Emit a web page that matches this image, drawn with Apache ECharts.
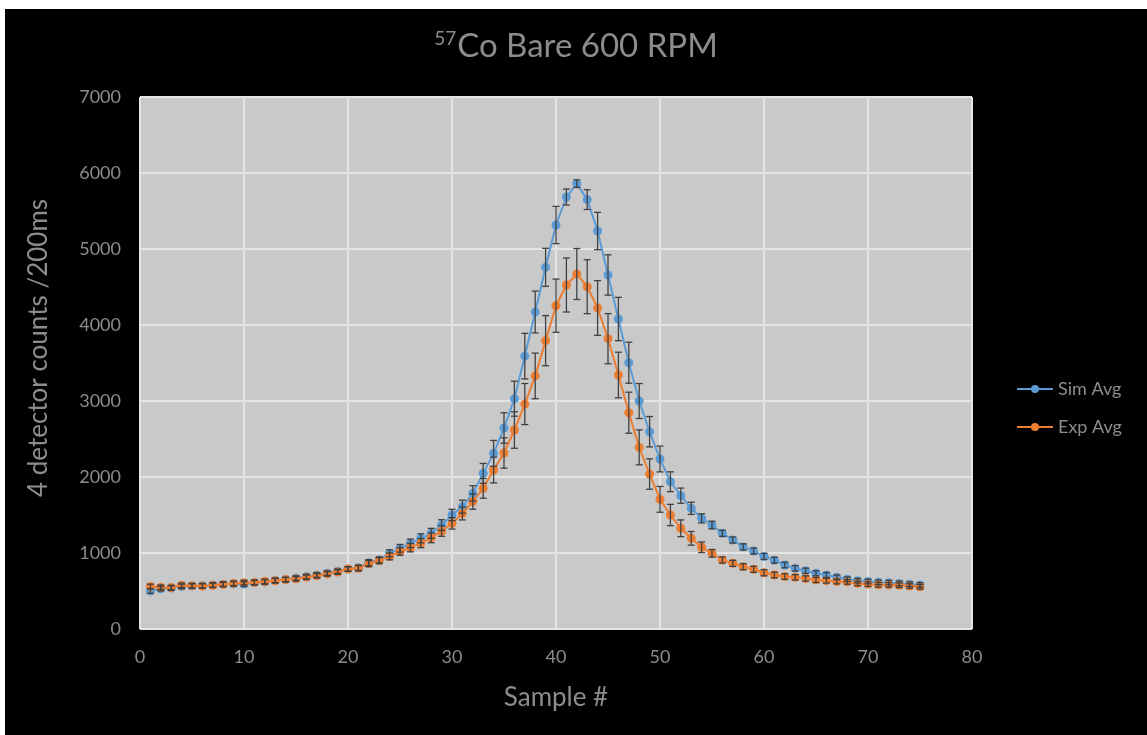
<!DOCTYPE html>
<html>
<head>
<meta charset="utf-8">
<script src="https://cdn.jsdelivr.net/npm/echarts@6/dist/echarts.min.js"></script>
<style>
  html, body { margin: 0; padding: 0; background: #ffffff; }
  #chart { position: absolute; left: 5px; top: 9px; width: 1142px; height: 726px; background: #000000; }
</style>
</head>
<body>
<div id="chart"></div>
<script>
// Sample numbers 1..75
const samples = [
  1, 2, 3, 4, 5, 6, 7, 8, 9, 10, 11, 12, 13, 14, 15, 16, 17, 18, 19, 20,
  21, 22, 23, 24, 25, 26, 27, 28, 29, 30, 31, 32, 33, 34, 35, 36, 37, 38, 39, 40,
  41, 42, 43, 44, 45, 46, 47, 48, 49, 50, 51, 52, 53, 54, 55, 56, 57, 58, 59, 60,
  61, 62, 63, 64, 65, 66, 67, 68, 69, 70, 71, 72, 73, 74, 75
];

// Simulated average counts (4 detectors, per 200 ms)
const simAvg = [
  500, 530, 540, 560, 565, 570, 580, 590, 595, 590,
  610, 620, 640, 650, 670, 690, 710, 735, 760, 790,
  805, 872, 908, 996, 1062, 1127, 1193, 1259, 1368, 1500,
  1610, 1785, 2048, 2311, 2645, 3030, 3590, 4171, 4759, 5316,
  5684, 5860, 5650, 5237, 4658, 4079, 3504, 3000, 2596, 2237,
  1938, 1754, 1588, 1456, 1368, 1259, 1171, 1080, 1025, 955,
  905, 842, 798, 767, 733, 711, 680, 655, 635, 625,
  615, 610, 600, 590, 580
];

// Experimental average counts
const expAvg = [
  560, 550, 545, 575, 570, 565, 575, 585, 600, 610,
  612, 625, 635, 650, 660, 680, 700, 725, 750, 790,
  800, 860, 900, 955, 1020, 1070, 1130, 1200, 1290, 1390,
  1520, 1676, 1851, 2092, 2316, 2618, 2960, 3330, 3794, 4254,
  4526, 4671, 4504, 4224, 3820, 3342, 2846, 2390, 2039, 1706,
  1500, 1325, 1193, 1075, 996, 908, 864, 820, 785, 740,
  711, 690, 680, 665, 645, 636, 625, 620, 600, 590,
  582, 580, 575, 565, 555
];

// Error bar half-widths
const simErr = [
  30, 30, 30, 30, 30, 30, 30, 30, 30, 30,
  30, 30, 30, 30, 30, 30, 30, 30, 30, 30,
  35, 40, 40, 45, 50, 55, 60, 65, 70, 75,
  85, 100, 130, 170, 200, 230, 300, 275, 250, 245,
  105, 50, 130, 245, 265, 285, 270, 230, 200, 170,
  130, 100, 80, 60, 50, 40, 40, 40, 40, 40,
  38, 36, 35, 34, 33, 32, 31, 30, 30, 30,
  30, 30, 30, 30, 30
];

const expErr = [
  30, 30, 30, 30, 30, 30, 30, 30, 30, 30,
  30, 30, 30, 30, 30, 30, 30, 30, 30, 30,
  35, 40, 40, 45, 50, 55, 60, 65, 70, 75,
  85, 100, 130, 170, 200, 240, 270, 300, 330, 350,
  355, 335, 355, 360, 330, 300, 270, 230, 200, 170,
  140, 110, 90, 70, 50, 40, 40, 40, 40, 40,
  38, 36, 35, 34, 33, 32, 31, 30, 30, 30,
  30, 30, 30, 30, 30
];

const seriesNames = ['Sim Avg', 'Exp Avg'];
const textGray = '#8c8c8c';
const blue = '#5B9BD5';
const orange = '#ED7D31';
const font = 'Lato, "Open Sans", sans-serif';

const pairs = (ys) => samples.map((x, i) => [x, ys[i]]);
const bars = (ys, es) => samples.map((x, i) => [x, ys[i] - es[i], ys[i] + es[i]]);

function renderErrorBar(params, api) {
  const x = api.value(0);
  const lo = api.coord([x, api.value(1)]);
  const hi = api.coord([x, api.value(2)]);
  const half = 3.5;
  const style = { stroke: '#404040', lineWidth: 1.3 };
  return {
    type: 'group',
    children: [
      { type: 'line', shape: { x1: lo[0], y1: lo[1], x2: hi[0], y2: hi[1] }, style },
      { type: 'line', shape: { x1: lo[0] - half, y1: lo[1], x2: lo[0] + half, y2: lo[1] }, style },
      { type: 'line', shape: { x1: hi[0] - half, y1: hi[1], x2: hi[0] + half, y2: hi[1] }, style }
    ]
  };
}

const chart = echarts.init(document.getElementById('chart'));
chart.setOption({
  backgroundColor: '#000000',
  animation: false,
  textStyle: { fontFamily: font },
  title: {
    text: '{sup|57}Co Bare 600 RPM',
    left: 'center',
    top: 15,
    textStyle: {
      color: textGray,
      fontSize: 33,
      fontWeight: 'normal',
      fontFamily: font,
      rich: {
        sup: { fontSize: 19, color: textGray, verticalAlign: 'top', padding: [0, 1, 16, 0], fontFamily: font }
      }
    }
  },
  legend: {
    orient: 'vertical',
    left: 1006,
    top: 366,
    itemGap: 20,
    itemWidth: 36,
    itemHeight: 10,
    textStyle: { color: textGray, fontSize: 18 },
    data: seriesNames
  },
  grid: {
    left: 135,
    top: 88,
    width: 832,
    height: 532,
    show: true,
    backgroundColor: '#c9c9c9',
    borderWidth: 0
  },
  xAxis: {
    type: 'value',
    min: 0,
    max: 80,
    interval: 10,
    name: 'Sample #',
    nameLocation: 'middle',
    nameGap: 56,
    nameTextStyle: { color: textGray, fontSize: 26 },
    axisLine: { show: false },
    axisTick: { show: false },
    axisLabel: { color: textGray, fontSize: 18, margin: 19 },
    splitLine: { show: true, lineStyle: { color: '#e4e4e4', width: 2 } }
  },
  yAxis: {
    type: 'value',
    min: 0,
    max: 7000,
    interval: 1000,
    name: '4 detector counts /200ms',
    nameLocation: 'middle',
    nameGap: 88,
    nameTextStyle: { color: textGray, fontSize: 26, padding: [0, 0, 0, 30] },
    axisLine: { show: false },
    axisTick: { show: false },
    axisLabel: { color: textGray, fontSize: 18, margin: 19, formatter: (v) => String(v) },
    splitLine: { show: true, lineStyle: { color: '#e4e4e4', width: 2 } }
  },
  series: [
    {
      name: seriesNames[0],
      type: 'line',
      data: pairs(simAvg),
      color: blue,
      symbol: 'circle',
      symbolSize: 9,
      lineStyle: { width: 2, color: blue },
      itemStyle: { color: blue },
      z: 3
    },
    {
      name: seriesNames[1],
      type: 'line',
      data: pairs(expAvg),
      color: orange,
      symbol: 'circle',
      symbolSize: 9,
      lineStyle: { width: 2, color: orange },
      itemStyle: { color: orange },
      z: 4
    },
    {
      type: 'custom',
      renderItem: renderErrorBar,
      data: bars(simAvg, simErr),
      encode: { x: 0, y: [1, 2] },
      silent: true,
      z: 5
    },
    {
      type: 'custom',
      renderItem: renderErrorBar,
      data: bars(expAvg, expErr),
      encode: { x: 0, y: [1, 2] },
      silent: true,
      z: 5
    }
  ]
});
</script>
</body>
</html>
